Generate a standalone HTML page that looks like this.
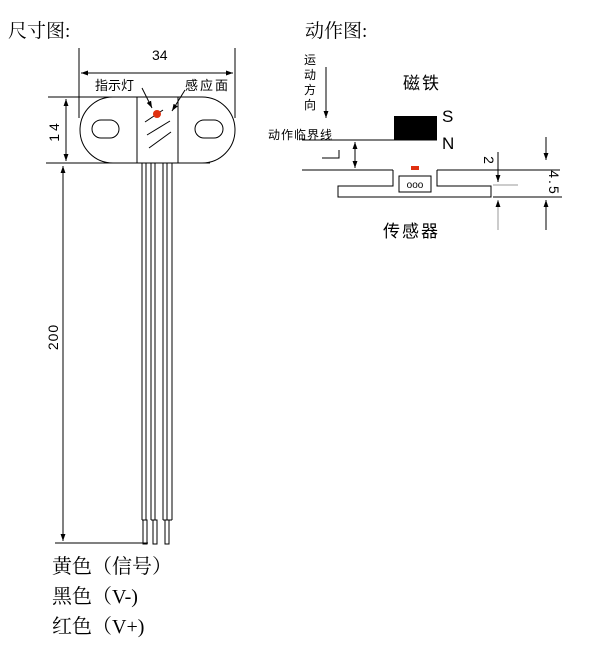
<!DOCTYPE html>
<html><head><meta charset="utf-8"><style>
body{margin:0;background:#fff}
svg{display:block}
text{font-family:"Liberation Sans","Noto Sans CJK SC",sans-serif;fill:#000}
.s{font-family:"Liberation Serif","Noto Serif CJK SC",serif}
</style></head><body>
<svg width="611" height="647" viewBox="0 0 611 647" xmlns="http://www.w3.org/2000/svg">
<defs>
<marker id="a" viewBox="0 0 10 10" refX="10" refY="5" markerWidth="7" markerHeight="7" orient="auto-start-reverse"><path d="M0,1.5L10,5L0,8.5z" fill="#000"/></marker>
</defs>
<g stroke="#000" stroke-width="1" fill="none">
<text x="8" y="37" font-size="19" stroke="none" class="s">尺寸图:</text>
<text x="305" y="37" font-size="19" stroke="none" class="s">动作图:</text>
<!-- 34 dim -->
<line x1="79" y1="48" x2="79" y2="118"/>
<line x1="235" y1="48" x2="235" y2="118"/>
<line x1="81" y1="73" x2="233" y2="73" marker-start="url(#a)" marker-end="url(#a)"/>
<text x="152" y="60" font-size="14" stroke="none">34</text>
<!-- body -->
<path d="M113,97 H202 A33,33 0 0 1 202,163 H113 A33,33 0 0 1 113,97Z"/>
<rect x="137" y="97" width="41" height="66" fill="#fff"/>
<rect x="92" y="120" width="27" height="18" rx="9"/>
<rect x="195" y="120" width="28" height="18" rx="9"/>
<line x1="145" y1="122" x2="163" y2="110"/>
<line x1="147" y1="135" x2="170" y2="121"/>
<line x1="149" y1="148" x2="171" y2="132"/>
<circle cx="157" cy="114" r="4" fill="#e03010" stroke="none"/>
<line x1="142" y1="88" x2="152" y2="108" marker-end="url(#a)"/>
<line x1="185" y1="90" x2="172" y2="111" marker-end="url(#a)"/>
<text x="95" y="90" font-size="13" stroke="none">指示灯</text>
<text x="185" y="90" font-size="13" stroke="none" letter-spacing="2">感应面</text>
<!-- 14 dim -->
<line x1="48" y1="97" x2="137" y2="97"/>
<line x1="46" y1="163" x2="210" y2="163"/>
<line x1="66" y1="99" x2="66" y2="161" marker-start="url(#a)" marker-end="url(#a)"/>
<text transform="translate(59,131) rotate(-90)" text-anchor="middle" font-size="14" stroke="none" letter-spacing="3">14</text>
<!-- wires -->
<g>
<line x1="142" y1="163" x2="142" y2="520"/><line x1="146" y1="163" x2="146" y2="520"/>
<line x1="151" y1="163" x2="151" y2="520"/><line x1="155" y1="163" x2="155" y2="520"/>
<line x1="163" y1="163" x2="163" y2="520"/><line x1="167" y1="163" x2="167" y2="520"/>
<line x1="172" y1="163" x2="172" y2="520"/>
<line x1="142" y1="520" x2="146" y2="520"/><line x1="151" y1="520" x2="155" y2="520"/><line x1="163" y1="520" x2="172" y2="520"/>
<rect x="143" y="520" width="4" height="24"/>
<rect x="153" y="520" width="4" height="24"/>
<rect x="165" y="520" width="4" height="24"/>
</g>
<!-- 200 dim -->
<line x1="63" y1="166" x2="63" y2="541" marker-start="url(#a)" marker-end="url(#a)"/>
<line x1="55" y1="543" x2="148" y2="543"/>
<text transform="translate(58,337) rotate(-90)" text-anchor="middle" font-size="14" stroke="none" letter-spacing="1">200</text>
<!-- labels -->
<text x="52" y="573" font-size="20" stroke="none" class="s">黄色（信号）</text>
<text x="52" y="603" font-size="20" stroke="none" class="s">黑色（V-)</text>
<text x="52" y="633" font-size="20" stroke="none" class="s">红色（V+)</text>

<!-- right diagram -->
<text x="304" y="64" font-size="12" stroke="none">运</text>
<text x="304" y="79" font-size="12" stroke="none">动</text>
<text x="304" y="94" font-size="12" stroke="none">方</text>
<text x="304" y="109" font-size="12" stroke="none">向</text>
<line x1="326" y1="67" x2="326" y2="118" marker-end="url(#a)"/>
<text x="403" y="89" font-size="17" stroke="none" letter-spacing="2">磁铁</text>
<text x="268" y="139" font-size="12" stroke="none" letter-spacing="1">动作临界线</text>
<line x1="302" y1="140" x2="437" y2="140"/>
<rect x="394" y="116" width="43" height="24" fill="#000" stroke="none"/>
<text x="442" y="122" font-size="17" stroke="none">S</text>
<text x="442" y="149" font-size="17" stroke="none">N</text>
<polyline points="322,158 339,158 339,150"/>
<line x1="355" y1="142" x2="355" y2="168" marker-start="url(#a)" marker-end="url(#a)"/>
<line x1="302" y1="170" x2="393" y2="170"/>
<line x1="437" y1="170" x2="560" y2="170"/>
<path d="M393,170 V186 H338 V197 H491 V186 H437 V170"/>
<rect x="399" y="176" width="32" height="16"/>
<text x="415" y="188" font-size="10" text-anchor="middle" stroke="none">ooo</text>
<rect x="411" y="166" width="8" height="4" fill="#e03010" stroke="none"/>
<text transform="translate(484,160) rotate(90)" text-anchor="middle" font-size="14" stroke="none">2</text>
<line x1="498" y1="152" x2="498" y2="182" marker-end="url(#a)"/>
<line x1="493" y1="185" x2="518" y2="185" stroke="#999"/>
<line x1="498" y1="230" x2="498" y2="200" stroke="#999" marker-end="url(#a)"/>
<line x1="493" y1="197" x2="562" y2="197"/>
<line x1="546" y1="137" x2="546" y2="160" marker-end="url(#a)"/>
<line x1="546" y1="230" x2="546" y2="200" marker-end="url(#a)"/>
<text transform="translate(549,183) rotate(90)" text-anchor="middle" font-size="14" stroke="none" letter-spacing="2">4.5</text>
<text x="383" y="237" font-size="17" stroke="none" letter-spacing="2">传感器</text>
</g>
</svg>
</body></html>
